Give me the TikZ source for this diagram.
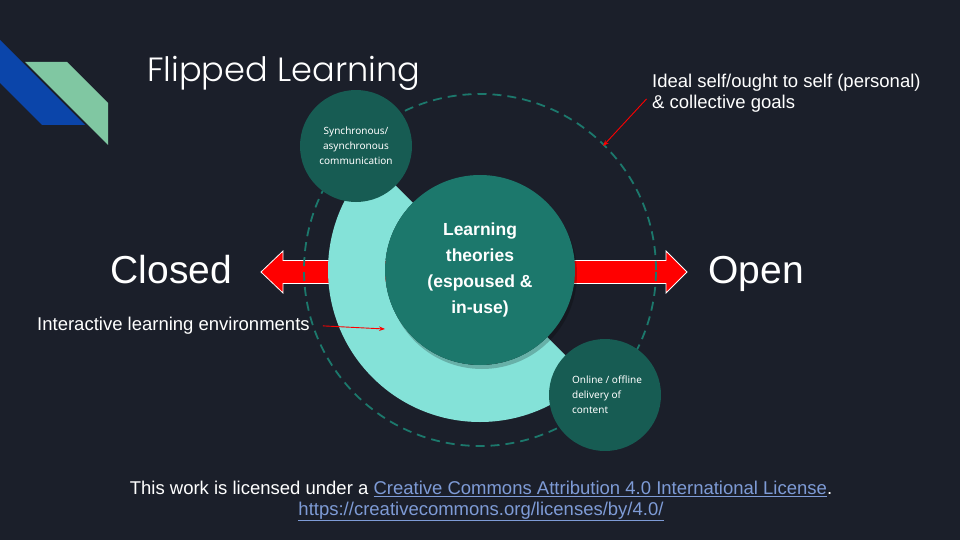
\documentclass[tikz,border=0pt]{standalone}
\usepackage{fontspec}
\setmainfont{Liberation Sans}
\newfontfamily\titlefont{Poppins Light}
\newfontfamily\roundfont{Noto Sans}
\usetikzlibrary{arrows.meta,positioning,shadows}
\definecolor{slatebg}{HTML}{1B1F2A}
\definecolor{decoblue}{HTML}{0B45AA}
\definecolor{decomint}{HTML}{80C7A2}
\definecolor{aqua}{HTML}{84E2D8}
\definecolor{tealmid}{HTML}{1C786C}
\definecolor{tealdark}{HTML}{175C53}
\definecolor{linkblue}{HTML}{7E9BD6}
\newcommand\cclink[1]{\textcolor{linkblue}{\underline{#1}}}
\tikzset{
  >={Stealth[length=6pt,width=4.5pt]},
  % kretsar
  hub/.style={circle,fill=tealmid,inner sep=0pt,minimum size=190pt,text=white,
              align=center,font=\bfseries\fontsize{17.5}{26}\selectfont,
              drop shadow={shadow xshift=2pt,shadow yshift=-4pt,opacity=0.22,fill=black}},
  sat/.style={circle,fill=tealdark,inner sep=0pt,minimum size=112pt,text=white,
              font=\roundfont\fontsize{10}{15}\selectfont},
  orbit/.style={draw=tealmid,line width=1.8pt,dash pattern=on 9pt off 6pt},
  ring/.style={fill=aqua},
  span/.style={fill=red,draw=white!75,line width=0.8pt},
  ptr/.style={->,draw=red,line width=0.9pt},
  % texter
  big/.style={text=white,font=\fontsize{39}{44}\selectfont,inner sep=0pt},
  note/.style={text=white,font=\fontsize{18.5}{21}\selectfont,inner sep=0pt,align=left},
  lic/.style={text=white,font=\fontsize{18.5}{21}\selectfont,inner sep=0pt,align=center},
}
\begin{document}
\begin{tikzpicture}[x=1pt,y=1pt]
\fill[slatebg] (0,0) rectangle (960,-540);
\useasboundingbox (0,0) rectangle (960,-540);
  \fill[decoblue] (0,-40) -- (85,-125) -- (42,-125) -- (0,-83) -- cycle;
  \fill[decomint] (25,-62) -- (67,-62) -- (108,-103) -- (108,-145) -- cycle;
  \node[text=white,inner sep=0pt,anchor=base west,font=\titlefont\fontsize{33.6}{40}\selectfont]
    (title) at (147,-82) {Flipped Learning};
  \coordinate (mid) at (480,-270);
  \fill[span] (261,-272) -- (283,-251) -- (283,-260.5) -- (666,-260.5) -- (666,-251)
    -- (687,-272) -- (666,-293) -- (666,-283.5) -- (283,-283.5) -- (283,-293) -- cycle;
  \draw[orbit] (mid) circle[radius=176pt];
  \fill[ring] ([shift={(135:152pt)}]mid) arc[start angle=135,end angle=315,radius=152pt]
    -- ([shift={(315:95pt)}]mid) arc[start angle=315,end angle=135,radius=95pt] -- cycle;
  \node[sat,align=center] (sync) at (356,-146) {Synchronous/\\asynchronous\\communication};
  \node[sat,align=left] (online) at (605,-395) {\hspace*{4pt}Online / offline\\\hspace*{4pt}delivery of\\\hspace*{4pt}content};
  \node[hub] (theory) at (mid) {Learning\\theories\\(espoused \&\\in-use)};
  \node[big,anchor=base] (closed) at (171.5,-283) {Closed};
  \node[big,anchor=base] (open) at (756,-283) {Open};
  \node[note,anchor=base west] (ile) at (37,-330) {Interactive learning environments};
  \node[note,anchor=west] (goals) at (652,-93) {Ideal self/ought to self (personal)\\\& collective goals};
  \coordinate (ringpt) at (385,-329);
  \coordinate (orbitpt) at (603,-146);
  \draw[ptr,shorten <=13pt] (ile.east) -- (ringpt);
  \draw[ptr,shorten <=8pt] (goals.west) -- (orbitpt);
  \node[lic] (license) at (481,-501) {This work is licensed under a
    \cclink{Creative Commons Attribution 4.0 International License}.\\
    \cclink{https://creativecommons.org/licenses/by/4.0/}};
\end{tikzpicture}
\end{document}
